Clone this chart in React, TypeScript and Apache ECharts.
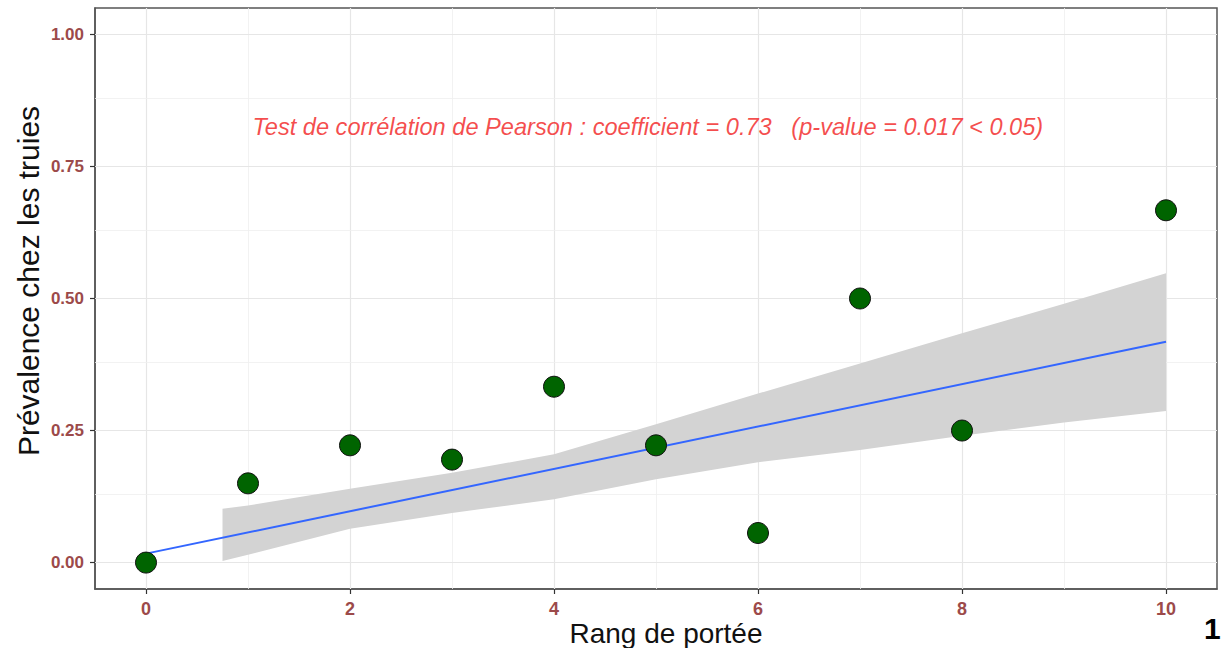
import React, { useEffect, useRef } from "react";
import * as echarts from "echarts";

// Data
const rangs = [0, 1, 2, 3, 4, 5, 6, 7, 8, 10];
const prevalence = [0, 0.15, 0.222, 0.195, 0.333, 0.222, 0.056, 0.5, 0.25, 0.667];

// Regression line end points
const fitX = [0, 10];
const fitY = [0.017, 0.418];

// Confidence band (as drawn)
const bandX = [0.75, 1, 2, 3, 4, 5, 6, 7, 8, 9, 10];
const bandUpper = [0.102, 0.108, 0.14, 0.17, 0.205, 0.262, 0.32, 0.377, 0.434, 0.49, 0.548];
const bandLower = [0.003, 0.015, 0.064, 0.094, 0.12, 0.158, 0.19, 0.213, 0.24, 0.265, 0.287];

// Axis ticks / grid
const xTicks = [0, 2, 4, 6, 8, 10];
const xMinor = [1, 3, 5, 7, 9];
const yTicks = [0, 0.25, 0.5, 0.75, 1];
const yMinor = [0.125, 0.375, 0.625, 0.875];

const annotationPos = [4.92, 0.825];
const annotationText =
  "Test de corrélation de Pearson : coefficient = 0.73   (p-value = 0.017 < 0.05)";
const xTitle = "Rang de portée";
const yTitle = "Prévalence chez les truies";
const cornerText = "1";

const FONT = '"Liberation Sans", Arial, sans-serif';
const TICK_COLOR = "#9c4a4a";

export default function App() {
  const ref = useRef<HTMLDivElement>(null);

  useEffect(() => {
    if (!ref.current) return;
    const chart = echarts.init(ref.current, undefined, { renderer: "svg" });

    const gridLines: any[] = [];
    xTicks.forEach((v) =>
      gridLines.push({ xAxis: v, lineStyle: { color: "#e6e6e6", width: 1.2, type: "solid" } })
    );
    xMinor.forEach((v) =>
      gridLines.push({ xAxis: v, lineStyle: { color: "#efefef", width: 0.8, type: "solid" } })
    );
    yTicks.forEach((v) =>
      gridLines.push({ yAxis: v, lineStyle: { color: "#e6e6e6", width: 1.2, type: "solid" } })
    );
    yMinor.forEach((v) =>
      gridLines.push({ yAxis: v, lineStyle: { color: "#efefef", width: 0.8, type: "solid" } })
    );

    const option: any = {
      animation: false,
      backgroundColor: "#ffffff",
      textStyle: { fontFamily: FONT },
      grid: {
        left: 95,
        right: 5,
        top: 8,
        bottom: 59,
        outerBoundsMode: "none",
        containLabel: false,
        show: true,
        borderColor: "#555555",
        borderWidth: 1.5,
        backgroundColor: "#ffffff",
      },
      xAxis: {
        type: "value",
        min: -0.5,
        max: 10.5,
        axisLine: { show: true, onZero: false, lineStyle: { color: "#555555", width: 1.5 } },
        axisTick: {
          show: true,
          length: 5,
          customValues: xTicks,
          lineStyle: { color: "#333333", width: 1.2 },
        },
        axisLabel: {
          show: true,
          customValues: xTicks,
          margin: 11,
          fontSize: 18,
          fontWeight: "bold",
          color: TICK_COLOR,
          fontFamily: FONT,
        },
        splitLine: { show: false },
      },
      yAxis: {
        type: "value",
        min: -0.05,
        max: 1.05,
        axisLine: { show: true, onZero: false, lineStyle: { color: "#555555", width: 1.5 } },
        axisTick: {
          show: true,
          length: 5,
          customValues: yTicks,
          lineStyle: { color: "#333333", width: 1.2 },
        },
        axisLabel: {
          show: true,
          customValues: yTicks,
          margin: 11,
          fontSize: 17,
          fontWeight: "bold",
          color: TICK_COLOR,
          fontFamily: FONT,
          formatter: (v: number) => v.toFixed(2),
        },
        splitLine: { show: false },
      },
      series: [
        {
          name: "grid",
          type: "line",
          data: [[0, 0]],
          showSymbol: false,
          symbol: "none",
          lineStyle: { opacity: 0 },
          silent: true,
          z: 1,
          markLine: {
            silent: true,
            symbol: ["none", "none"],
            label: { show: false },
            data: gridLines,
            z: 1,
          },
        },
        {
          name: "band",
          type: "custom",
          silent: true,
          z: 2,
          data: [[bandX[0], bandLower[0]]],
          renderItem: (params: any, api: any) => {
            if (params.dataIndex !== 0) return null;
            const pts: number[][] = [];
            for (let i = 0; i < bandX.length; i++) pts.push(api.coord([bandX[i], bandUpper[i]]));
            for (let i = bandX.length - 1; i >= 0; i--)
              pts.push(api.coord([bandX[i], bandLower[i]]));
            return {
              type: "polygon",
              shape: { points: pts },
              style: { fill: "#d3d3d3" },
            };
          },
        },
        {
          name: "fit",
          type: "line",
          z: 3,
          silent: true,
          symbol: "none",
          data: fitX.map((x, i) => [x, fitY[i]]),
          lineStyle: { color: "#3366ff", width: 2 },
        },
        {
          name: "points",
          type: "scatter",
          z: 4,
          symbol: "circle",
          symbolSize: 21,
          data: rangs.map((x, i) => [x, prevalence[i]]),
          itemStyle: { color: "#006400", opacity: 1, borderColor: "#111111", borderWidth: 1 },
        },
        {
          name: "annotation",
          type: "scatter",
          z: 5,
          silent: true,
          symbolSize: 0,
          data: [annotationPos],
          label: {
            show: true,
            position: "inside",
            formatter: () => annotationText,
            fontSize: 23.6,
            fontStyle: "italic",
            color: "#f21d1d",
            fontFamily: FONT,
          },
        },
      ],
      graphic: [
        {
          type: "text",
          x: 666,
          y: 633,
          style: {
            text: xTitle,
            font: `28px ${FONT}`,
            fill: "#111111",
            textAlign: "center",
            textVerticalAlign: "middle",
          },
        },
        {
          type: "text",
          x: 28,
          y: 281,
          rotation: Math.PI / 2,
          style: {
            text: yTitle,
            font: `30px ${FONT}`,
            fill: "#111111",
            textAlign: "center",
            textVerticalAlign: "middle",
          },
        },
        {
          type: "text",
          left: 1204,
          top: 613,
          style: { text: cornerText, font: `bold 30px ${FONT}`, fill: "#000000" },
        },
      ],
    };

    chart.setOption(option);
    return () => chart.dispose();
  }, []);

  return (
    <div
      ref={ref}
      style={{ position: "fixed", left: 0, top: 0, width: 1222, height: 648, background: "#fff" }}
    />
  );
}
